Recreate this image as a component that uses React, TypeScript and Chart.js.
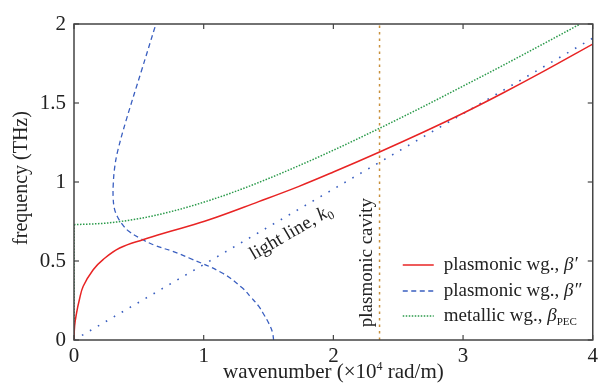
import React, { useEffect, useRef } from "react";
import { Chart, registerables } from "chart.js";

Chart.register(...registerables);

// ---- data ----
const xTicks = [0, 1, 2, 3, 4];
const yTicks = [0, 0.5, 1, 1.5, 2];

// plasmonic wg., beta' (red solid)
const redK = [0, 0.005, 0.02, 0.04, 0.071, 0.148, 0.224, 0.352, 0.531, 0.786, 1.041, 1.424, 1.73, 2.0, 2.356, 2.7, 3.0, 3.3, 3.62, 4.0];
const redF = [0, 0.09, 0.172, 0.25, 0.34, 0.445, 0.509, 0.582, 0.635, 0.698, 0.761, 0.876, 0.971, 1.063, 1.19, 1.318, 1.435, 1.56, 1.70, 1.873];

// plasmonic wg., beta'' (blue dashed)
const blueK = [1.539, 1.53, 1.5, 1.465, 1.424, 1.365, 1.297, 1.143, 0.888, 0.76, 0.62, 0.505, 0.42, 0.37, 0.335, 0.312, 0.302, 0.303, 0.315, 0.339, 0.403, 0.518, 0.628];
const blueF = [0, 0.05, 0.109, 0.16, 0.214, 0.27, 0.33, 0.424, 0.519, 0.561, 0.6, 0.646, 0.69, 0.735, 0.78, 0.83, 0.9, 0.99, 1.1, 1.203, 1.393, 1.698, 1.99];

// metallic wg., beta_PEC (green dotted)
const greenCutK = [0, 0];
const greenCutF = [0, 0.73];
const greenK = [0, 0.25, 0.5, 0.75, 1.0, 1.25, 1.5, 1.75, 2.0, 2.25, 2.5, 2.75, 3.0, 3.25, 3.5, 3.75, 3.9];
const greenF = [0.73, 0.74, 0.768, 0.813, 0.872, 0.942, 1.022, 1.109, 1.201, 1.298, 1.398, 1.501, 1.607, 1.713, 1.822, 1.932, 1.999];

// light line k0 (blue dotted)
const lightK = [0, 4];
const lightF = [0, 1.91];

// plasmonic cavity (vertical brown dotted)
const cavityK = [2.356, 2.356];
const cavityF = [0, 2];

const toPts = (xs: number[], ys: number[]) => xs.map((v, i) => ({ x: v, y: ys[i] }));

const SERIF = '"Liberation Serif", "Times New Roman", serif';
const RED = "#e82424";
const BLUE = "#3a5fc0";
const GREEN = "#2a9a4a";
const BROWN = "#c8903c";
const AXIS = "#444444";
const TEXT = "#222222";

const decoPlugin = {
  id: "deco",
  afterDraw(chart: any) {
    const { ctx, chartArea, scales } = chart;
    const { left, right, top, bottom } = chartArea;
    const xs = scales.x;
    const ys = scales.y;
    const line = (x1: number, y1: number, x2: number, y2: number) => {
      ctx.beginPath();
      ctx.moveTo(x1, y1);
      ctx.lineTo(x2, y2);
      ctx.stroke();
    };
    ctx.save();
    // box
    ctx.strokeStyle = AXIS;
    ctx.lineWidth = 1.5;
    ctx.setLineDash([]);
    ctx.strokeRect(left, top, right - left, bottom - top);
    // inward ticks
    ctx.lineWidth = 1.2;
    xTicks.forEach((v) => {
      const px = xs.getPixelForValue(v);
      line(px, bottom, px, bottom - 5);
      line(px, top, px, top + 5);
    });
    yTicks.forEach((v) => {
      const py = ys.getPixelForValue(v);
      line(left, py, left + 5, py);
      line(right, py, right - 5, py);
    });

    const drawParts = (parts: { t: string; f: string; dy: number }[], x0: number, y: number, center = false) => {
      let total = 0;
      parts.forEach((p) => {
        ctx.font = p.f;
        total += ctx.measureText(p.t).width;
      });
      let cx = center ? x0 - total / 2 : x0;
      parts.forEach((p) => {
        ctx.font = p.f;
        ctx.fillText(p.t, cx, y + p.dy);
        cx += ctx.measureText(p.t).width;
      });
    };

    // axis titles
    ctx.fillStyle = TEXT;
    ctx.textAlign = "left";
    ctx.textBaseline = "alphabetic";
    drawParts(
      [
        { t: "wavenumber (\u00d710", f: `21px ${SERIF}`, dy: 0 },
        { t: "4", f: `12px ${SERIF}`, dy: -8 },
        { t: " rad/m)", f: `21px ${SERIF}`, dy: 0 },
      ],
      (left + right) / 2,
      378,
      true
    );
    ctx.save();
    ctx.translate(22, 178);
    ctx.rotate(-Math.PI / 2);
    ctx.font = `20px ${SERIF}`;
    ctx.textAlign = "center";
    ctx.textBaseline = "middle";
    ctx.fillText("frequency (THz)", 0, 0);
    ctx.restore();

    // light line label
    {
      const ang = Math.atan2(
        ys.getPixelForValue(lightF[1]) - ys.getPixelForValue(lightF[0]),
        xs.getPixelForValue(lightK[1]) - xs.getPixelForValue(lightK[0])
      );
      ctx.save();
      ctx.translate(xs.getPixelForValue(1.67), ys.getPixelForValue(0.685));
      ctx.rotate(ang);
      ctx.textAlign = "left";
      ctx.textBaseline = "alphabetic";
      drawParts(
        [
          { t: "light line, ", f: `19px ${SERIF}`, dy: 6 },
          { t: "k", f: `italic 19px ${SERIF}`, dy: 6 },
          { t: "0", f: `12px ${SERIF}`, dy: 10 },
        ],
        0,
        0,
        true
      );
      ctx.restore();
    }

    // plasmonic cavity label
    ctx.save();
    ctx.translate(xs.getPixelForValue(2.26), ys.getPixelForValue(0.49));
    ctx.rotate(-Math.PI / 2);
    ctx.font = `19px ${SERIF}`;
    ctx.textAlign = "center";
    ctx.textBaseline = "middle";
    ctx.fillText("plasmonic cavity", 0, 0);
    ctx.restore();

    // legend
    const lx0 = right - 190;
    const lx1 = right - 159;
    const tx = right - 149;
    const rows = [
      { y: bottom - 75, color: RED, dash: [] as number[], w: 1.5 },
      { y: bottom - 49, color: BLUE, dash: [5, 3.5], w: 1.3 },
      { y: bottom - 24, color: GREEN, dash: [1.5, 1.5], w: 1.5 },
    ];
    rows.forEach((r) => {
      ctx.strokeStyle = r.color;
      ctx.lineWidth = r.w;
      ctx.setLineDash(r.dash);
      line(lx0, r.y, lx1, r.y);
    });
    ctx.setLineDash([]);
    ctx.fillStyle = TEXT;
    ctx.textAlign = "left";
    ctx.textBaseline = "middle";
    const n = `19px ${SERIF}`;
    const it = `italic 19px ${SERIF}`;
    const sub = `11px ${SERIF}`;
    drawParts([{ t: "plasmonic wg., ", f: n, dy: 0 }, { t: "\u03b2\u2032", f: it, dy: 0 }], tx, rows[0].y);
    drawParts([{ t: "plasmonic wg., ", f: n, dy: 0 }, { t: "\u03b2\u2033", f: it, dy: 0 }], tx, rows[1].y);
    drawParts(
      [
        { t: "metallic wg., ", f: n, dy: 0 },
        { t: "\u03b2", f: it, dy: 0 },
        { t: "PEC", f: sub, dy: 6 },
      ],
      tx,
      rows[2].y
    );
    ctx.restore();
  },
};

export default function App() {
  const ref = useRef<HTMLCanvasElement | null>(null);
  useEffect(() => {
    if (!ref.current) return;
    const chart = new Chart(ref.current, {
      type: "scatter",
      data: {
        datasets: [
          {
            data: toPts(redK, redF),
            showLine: true,
            borderColor: RED,
            borderWidth: 1.5,
            pointRadius: 0,
            tension: 0.4,
          },
          {
            data: toPts(blueK, blueF),
            showLine: true,
            borderColor: BLUE,
            borderWidth: 1.3,
            borderDash: [5, 3.5],
            pointRadius: 0,
            tension: 0.4,
          },
          {
            data: toPts(greenK, greenF),
            showLine: true,
            borderColor: GREEN,
            borderWidth: 1.5,
            borderDash: [1.5, 1.5],
            pointRadius: 0,
            cubicInterpolationMode: "monotone",
          },
          {
            data: toPts(greenCutK, greenCutF),
            showLine: true,
            borderColor: GREEN,
            borderWidth: 1.5,
            borderDash: [1.5, 1.5],
            pointRadius: 0,
          },
          {
            data: toPts(lightK, lightF),
            showLine: true,
            borderColor: BLUE,
            borderWidth: 1.6,
            borderDash: [1.6, 7.6],
            pointRadius: 0,
          },
          {
            data: toPts(cavityK, cavityF),
            showLine: true,
            borderColor: BROWN,
            borderWidth: 1.5,
            borderDash: [2.5, 4],
            pointRadius: 0,
          },
        ],
      },
      options: {
        responsive: false,
        animation: false,
        layout: { padding: { top: 24, right: 6, left: 0, bottom: 0 } },
        plugins: { legend: { display: false }, tooltip: { enabled: false } },
        scales: {
          x: {
            type: "linear",
            min: 0,
            max: 4,
            grid: { display: false, drawTicks: false },
            border: { display: false },
            ticks: {
              stepSize: 1,
              padding: 4,
              color: TEXT,
              font: { family: SERIF, size: 21 },
              maxRotation: 0,
              callback: (v: any) => String(v),
            },
            afterFit: (s: any) => {
              s.height = 50;
            },
          },
          y: {
            type: "linear",
            min: 0,
            max: 2,
            grid: { display: false, drawTicks: false },
            border: { display: false },
            ticks: {
              stepSize: 0.5,
              padding: 8,
              color: TEXT,
              font: { family: SERIF, size: 21 },
              callback: (v: any) => String(v),
            },
            afterFit: (s: any) => {
              s.width = 74;
            },
          },
        },
      },
      plugins: [decoPlugin],
    } as any);
    return () => chart.destroy();
  }, []);
  return (
    <div style={{ position: "absolute", left: 0, top: 0, width: 602, height: 390, background: "#fff" }}>
      <canvas ref={ref} width={602} height={390} style={{ display: "block", width: 602, height: 390 }} />
    </div>
  );
}
